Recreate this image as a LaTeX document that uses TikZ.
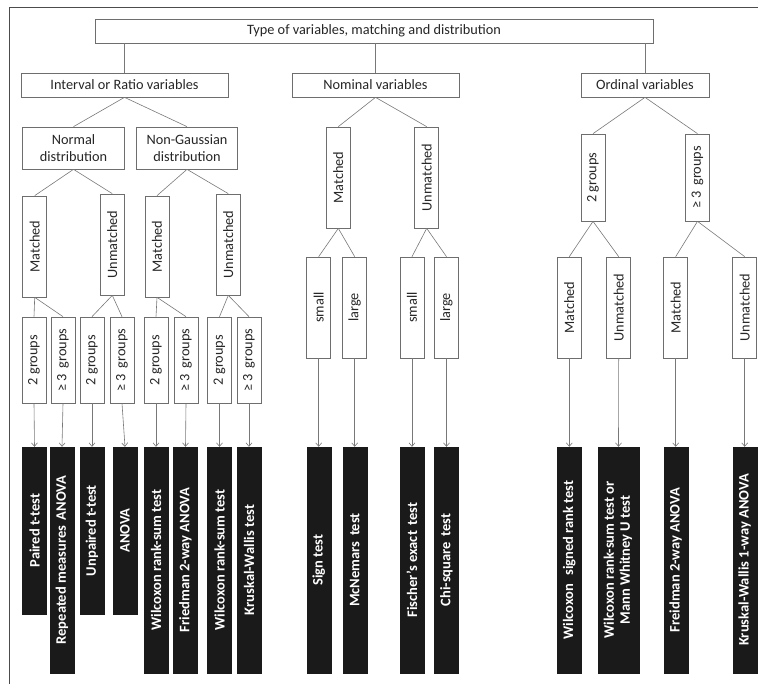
\documentclass[tikz,border=0pt]{standalone}
\usepackage{fontspec}
\usepackage{graphicx}
\setmainfont{Carlito}
\usetikzlibrary{arrows.meta}
\definecolor{lncol}{RGB}{120,120,120}
\definecolor{bxcol}{RGB}{110,110,110}
\definecolor{blk}{RGB}{26,26,26}
\tikzset{
  wbox/.style={draw=bxcol, line width=0.7pt, fill=white, inner sep=0pt, text=black!85, font=\fontsize{14.3}{17.5}\selectfont, align=center},
  bbox/.style={draw=blk, fill=blk, inner sep=0pt, text=white, font=\fontsize{14.5}{17}\selectfont\bfseries, minimum width=24pt},
  conn/.style={draw=lncol, line width=0.6pt},
  arr/.style={draw=lncol, line width=0.6pt, -{Straight Barb[length=3.5pt,width=6pt]}},
}
\newcommand{\vt}[1]{\rotatebox{90}{#1}}
\begin{document}
\begin{tikzpicture}[x=1pt,y=-1pt]
\useasboundingbox (0,0) rectangle (758,684);
% frame
\draw[draw=black!70, line width=0.8pt] (758,7) -- (9,7) -- (9,684);

% level 0 and 1
\node[wbox, minimum width=558pt, minimum height=24pt] (root) at (374,31) {Type of variables, matching and distribution};
\node[wbox, minimum width=207pt, minimum height=24pt] (intv) at (124.5,85) {Interval or Ratio variables};
\node[wbox, minimum width=167pt, minimum height=24pt] (nom) at (375.5,85) {Nominal variables};
\node[wbox, minimum width=128pt, minimum height=24pt] (ord) at (645,85) {Ordinal variables};
\draw[conn] (root.south -| intv.north) -- (intv.north);
\draw[conn] (root.south -| nom.north) -- (nom.north);
\draw[conn] (root.south -| ord.north) -- (ord.north);

% interval branch
\node[wbox, minimum width=101.6pt, minimum height=42pt] (norm) at (73.5,148) {Normal\\distribution};
\node[wbox, minimum width=101.6pt, minimum height=42pt] (nong) at (187,148) {Non-Gaussian\\distribution};
\draw[conn] (intv.south) -- (norm.north);
\draw[conn] (intv.south) -- (nong.north);

\node[wbox, minimum width=24pt, minimum height=101pt] (nm) at (34.7,246.5) {\vt{Matched}};
\node[wbox, minimum width=24pt, minimum height=101pt] (nu) at (112.3,244.5) {\vt{Unmatched}};
\node[wbox, minimum width=24pt, minimum height=101pt] (gm) at (157,246.5) {\vt{Matched}};
\node[wbox, minimum width=24pt, minimum height=101pt] (gu) at (228.3,244.5) {\vt{Unmatched}};
\draw[conn] (norm.south) -- (nm.north);
\draw[conn] (norm.south) -- (nu.north);
\draw[conn] (nong.south) -- (gm.north);
\draw[conn] (nong.south) -- (gu.north);

\node[wbox, minimum width=24pt, minimum height=86pt] (g1) at (34,360) {\vt{2 groups}};
\node[wbox, minimum width=24pt, minimum height=86pt] (g2) at (63,360) {\vt{≥ 3\, groups}};
\node[wbox, minimum width=24pt, minimum height=86pt] (g3) at (92,360) {\vt{2 groups}};
\node[wbox, minimum width=24pt, minimum height=86pt] (g4) at (122,360) {\vt{≥ 3\, groups}};
\node[wbox, minimum width=24pt, minimum height=86pt] (g5) at (156,360) {\vt{2 groups}};
\node[wbox, minimum width=24pt, minimum height=86pt] (g6) at (186,360) {\vt{≥ 3\, groups}};
\node[wbox, minimum width=24pt, minimum height=86pt] (g7) at (219.5,360) {\vt{2 groups}};
\node[wbox, minimum width=24pt, minimum height=86pt] (g8) at (249,360) {\vt{≥ 3\, groups}};
\draw[conn] (nm.south) -- (g1.north);
\draw[conn] (nm.south) -- (g2.north);
\draw[conn] (nu.south) -- (g3.north);
\draw[conn] (nu.south) -- (g4.north);
\draw[conn] (gm.south) -- (g5.north);
\draw[conn] (gm.south) -- (g6.north);
\draw[conn] (gu.south) -- (g7.north);
\draw[conn] (gu.south) -- (g8.north);

\node[bbox, minimum height=167pt] (b1) at (34.5,530.5) {\vt{Paired t-test}};
\node[bbox, minimum height=226pt] (b2) at (62,560) {\vt{Repeated measures\, ANOVA}};
\node[bbox, minimum height=167pt] (b3) at (92,530.5) {\vt{Unpaired t-test}};
\node[bbox, minimum height=167pt] (b4) at (125,530.5) {\vt{ANOVA}};
\node[bbox, minimum height=226pt] (b5) at (156,560) {\vt{Wilcoxon rank-sum test}};
\node[bbox, minimum height=226pt] (b6) at (185.5,560) {\vt{Friedman 2-way ANOVA}};
\node[bbox, minimum height=226pt] (b7) at (219.5,560) {\vt{Wilcoxon rank-sum test}};
\node[bbox, minimum height=226pt] (b8) at (249,560) {\vt{Kruskal-Wallis test}};
\foreach \i in {1,...,8} {\draw[arr] (g\i.south) -- (b\i.north);}

% nominal branch
\node[wbox, minimum width=24pt, minimum height=101pt] (nom1) at (338.3,177.5) {\vt{Matched}};
\node[wbox, minimum width=24pt, minimum height=101pt] (nom2) at (426.7,177.5) {\vt{Unmatched}};
\draw[conn] (nom.south) -- (nom1.north);
\draw[conn] (nom.south) -- (nom2.north);
\node[wbox, minimum width=24pt, minimum height=101pt] (s1) at (318.7,307.5) {\vt{small}};
\node[wbox, minimum width=24pt, minimum height=101pt] (l1) at (354.7,307.5) {\vt{large}};
\node[wbox, minimum width=24pt, minimum height=101pt] (s2) at (412,307.5) {\vt{small}};
\node[wbox, minimum width=24pt, minimum height=101pt] (l2) at (446.5,307.5) {\vt{large}};
\draw[conn] (nom1.south) -- (s1.north);
\draw[conn] (nom1.south) -- (l1.north);
\draw[conn] (nom2.south) -- (s2.north);
\draw[conn] (nom2.south) -- (l2.north);
\node[bbox, minimum height=226pt] (bs1) at (318.7,560) {\vt{Sign test}};
\node[bbox, minimum height=226pt] (bl1) at (354.7,560) {\vt{McNemars\, test}};
\node[bbox, minimum height=226pt] (bs2) at (412,560) {\vt{Fischer’s exact\, test}};
\node[bbox, minimum height=226pt] (bl2) at (446.5,560) {\vt{Chi-square\, test}};
\draw[arr] (s1.south) -- (bs1.north);
\draw[arr] (l1.south) -- (bl1.north);
\draw[arr] (s2.south) -- (bs2.north);
\draw[arr] (l2.south) -- (bl2.north);

% ordinal branch
\node[wbox, minimum width=24pt, minimum height=87pt] (o2) at (593,177.5) {\vt{2 groups}};
\node[wbox, minimum width=24pt, minimum height=87pt] (o3) at (697.5,177.5) {\vt{≥ 3\, groups}};
\draw[conn] (ord.south) -- (o2.north);
\draw[conn] (ord.south) -- (o3.north);
\node[wbox, minimum width=24pt, minimum height=101pt] (om1) at (569.3,307.5) {\vt{Matched}};
\node[wbox, minimum width=24pt, minimum height=101pt] (ou1) at (618.7,307.5) {\vt{Unmatched}};
\node[wbox, minimum width=24pt, minimum height=101pt] (om2) at (675.7,307.5) {\vt{Matched}};
\node[wbox, minimum width=24pt, minimum height=101pt] (ou2) at (744.7,307.5) {\vt{Unmatched}};
\draw[conn] (o2.south) -- (om1.north);
\draw[conn] (o2.south) -- (ou1.north);
\draw[conn] (o3.south) -- (om2.north);
\draw[conn] (o3.south) -- (ou2.north);
\node[bbox, minimum height=226pt] (bo1) at (569.3,560) {\vt{Wilcoxon\,\, signed rank test}};
\node[bbox, minimum height=226pt, minimum width=41.6pt] (bo2) at (618.5,560) {\vt{\begin{tabular}{@{}c@{}}Wilcoxon rank-sum test or\\[-1pt]Mann Whitney U test\end{tabular}}};
\node[bbox, minimum height=226pt] (bo3) at (675.7,560) {\vt{Freidman 2-way ANOVA}};
\node[bbox, minimum height=226pt] (bo4) at (744.7,560) {\vt{Kruskal-Wallis 1-way ANOVA}};
\draw[arr] (om1.south) -- (bo1.north);
\draw[arr] (ou1.south) -- (bo2.north);
\draw[arr] (om2.south) -- (bo3.north);
\draw[arr] (ou2.south) -- (bo4.north);
\end{tikzpicture}
\end{document}
